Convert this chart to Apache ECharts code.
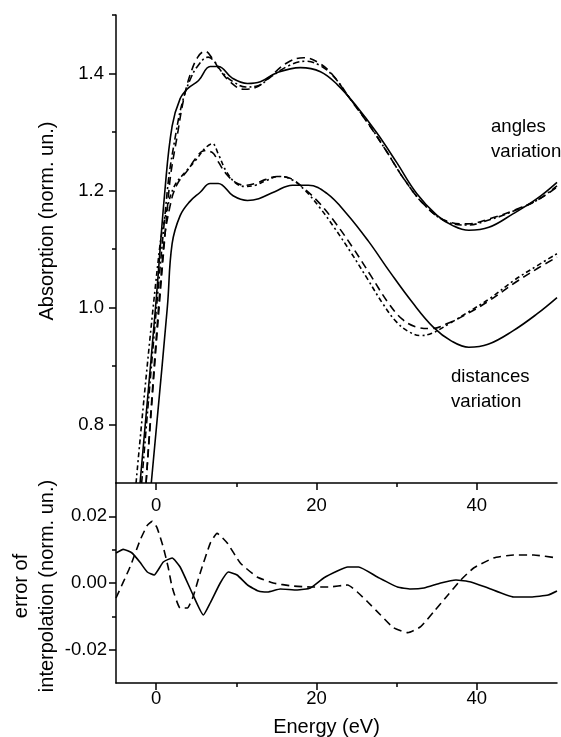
<!DOCTYPE html>
<html>
<head>
<meta charset="utf-8">
<script src="https://cdn.jsdelivr.net/npm/echarts@6/dist/echarts.min.js"></script>
<style>
html,body{margin:0;padding:0;background:#fff;}
#chart{width:561px;height:737px;}
</style>
</head>
<body>
<div id="chart"></div>
<script>
// ---- data (Energy eV, value) ----
const angleSolid = [[-2.0,0.70],[-0.07,1.00],[1.1,1.20],[2.0,1.310],[3.0,1.357],[4.0,1.375],[5.3,1.388],[6.75,1.412],[7.75,1.412],[9.5,1.392],[11.4,1.383],[13.0,1.386],[15.0,1.401],[18.0,1.410],[20.5,1.403],[22.6,1.381],[25.0,1.344],[27.5,1.299],[30.0,1.248],[32.5,1.195],[35.0,1.158],[37.0,1.140],[39.0,1.132],[41.5,1.137],[44.5,1.160],[47.5,1.186],[50.0,1.214]];
const angleDash = [[-1.25,0.70],[1.6,1.20],[2.75,1.303],[3.5,1.360],[4.3,1.400],[5.2,1.428],[6.1,1.438],[7.0,1.426],[8.0,1.405],[9.3,1.385],[10.9,1.373],[12.4,1.376],[14.0,1.392],[16.3,1.418],[18.4,1.427],[20.2,1.419],[22.0,1.398],[24.0,1.360],[26.4,1.315],[28.5,1.272],[31.0,1.218],[33.5,1.175],[36.0,1.149],[38.8,1.143],[41.7,1.152],[44.6,1.166],[47.6,1.184],[50.0,1.206]];
const angleDashDot = [[-1.8,0.70],[1.4,1.20],[2.5,1.300],[3.3,1.352],[4.2,1.388],[5.2,1.413],[6.5,1.428],[7.3,1.420],[8.3,1.401],[9.6,1.386],[11.2,1.377],[12.7,1.379],[14.2,1.393],[16.5,1.413],[18.6,1.421],[20.4,1.414],[22.2,1.394],[24.2,1.357],[26.6,1.312],[28.7,1.268],[31.2,1.214],[33.7,1.172],[36.2,1.147],[38.8,1.141],[41.6,1.150],[44.6,1.165],[47.6,1.184],[50.0,1.208]];
const distSolid = [[-0.6,0.70],[1.4,1.00],[2.0,1.109],[3.0,1.157],[4.2,1.181],[5.5,1.197],[6.75,1.212],[7.75,1.212],[9.6,1.191],[11.4,1.183],[12.8,1.186],[14.8,1.198],[17.0,1.209],[19.0,1.209],[21.3,1.195],[23.8,1.160],[26.5,1.113],[29.2,1.060],[32.0,1.008],[34.6,0.966],[36.8,0.943],[39.0,0.932],[41.4,0.937],[44.5,0.960],[47.5,0.989],[50.0,1.017]];
const distDash = [[-1.25,0.70],[0.9,1.10],[1.75,1.174],[2.6,1.210],[3.9,1.234],[5.0,1.256],[6.0,1.268],[7.0,1.265],[7.8,1.248],[8.7,1.229],[9.9,1.214],[11.1,1.209],[12.4,1.212],[13.7,1.219],[15.1,1.224],[16.7,1.221],[18.4,1.204],[20.4,1.178],[22.4,1.144],[24.6,1.101],[26.8,1.054],[28.9,1.009],[30.7,0.980],[32.4,0.967],[34.3,0.964],[36.4,0.973],[38.9,0.990],[41.7,1.013],[44.6,1.041],[47.6,1.067],[50.0,1.086]];
const distDashDot = [[-2.5,0.70],[0.4,1.097],[1.4,1.170],[2.3,1.208],[3.6,1.231],[4.9,1.251],[6.1,1.272],[7.0,1.280],[7.8,1.261],[8.7,1.234],[9.9,1.213],[11.1,1.207],[12.4,1.209],[13.7,1.217],[15.4,1.224],[17.0,1.218],[18.6,1.200],[20.4,1.171],[22.2,1.137],[24.3,1.094],[26.4,1.048],[28.3,1.006],[30.0,0.975],[31.6,0.958],[33.0,0.952],[34.4,0.956],[36.4,0.971],[38.9,0.992],[41.7,1.016],[44.6,1.046],[47.6,1.072],[50.0,1.092]];
const errSolid = [[-5,0.0090],[-4.1,0.0101],[-3,0.0090],[-2,0.0062],[-1.1,0.0033],[-0.25,0.0024],[0.9,0.0063],[2,0.0075],[3,0.0048],[4.5,-0.0030],[5.9,-0.0096],[6.75,-0.0060],[8,0.0000],[9,0.0033],[10.1,0.0024],[11.4,-0.0006],[12.75,-0.0024],[13.9,-0.0027],[15.5,-0.0018],[17.6,-0.0021],[19.25,-0.0015],[20.9,0.0015],[22.6,0.0036],[23.9,0.0048],[25.25,0.0048],[27.6,0.0018],[30.1,-0.0012],[31.75,-0.0018],[33.4,-0.0015],[35.5,0.0000],[37.4,0.0009],[39.25,0.0003],[41.4,-0.0015],[44.6,-0.0042],[46.75,-0.0042],[48.9,-0.0036],[50,-0.0024]];
const errDash = [[-5,-0.0045],[-3.25,0.0048],[-2,0.0128],[-1.1,0.0173],[-0.5,0.0185],[0.1,0.0167],[0.9,0.0107],[1.5,0.0048],[2,-0.0012],[3,-0.0075],[3.9,-0.0075],[4.6,-0.0042],[5.5,0.0030],[6.75,0.0119],[7.6,0.0149],[8.9,0.0119],[10.5,0.0060],[12.6,0.0018],[14.6,0.0000],[17,-0.0009],[19.25,-0.0012],[21.5,-0.0012],[23.9,-0.0006],[25.1,-0.0027],[26.4,-0.0057],[28,-0.0096],[29.6,-0.0134],[31.4,-0.0149],[33,-0.0131],[34.6,-0.0087],[36.4,-0.0036],[38,0.0009],[39.6,0.0045],[42.1,0.0075],[44.6,0.0084],[47.1,0.0084],[50,0.0075]];

const xMajorTicks = [0, 20, 40];
const xMinorTicks = [10, 30];
const yTopMajorTicks = [0.8, 1.0, 1.2, 1.4];
const yTopMinorTicks = [0.9, 1.1, 1.3, 1.5];
const yBotMajorTicks = [-0.02, 0.00, 0.02];
const yBotMinorTicks = [-0.01, 0.01];

const FONT = '"Liberation Sans", Arial, sans-serif';
const BLACK = '#000';

function xAx(grid, major, margin) {
  return {
    type: 'value', gridIndex: grid, min: -5, max: 50, position: 'bottom',
    axisLine: {show: major, onZero: false, lineStyle: {color: BLACK, width: 1.5}},
    axisTick: {show: true, inside: false, length: major ? 7 : 4, customValues: major ? xMajorTicks : xMinorTicks, lineStyle: {color: BLACK, width: 1.5}},
    axisLabel: major ? {show: true, customValues: xMajorTicks, margin: margin, fontSize: 18.5, fontFamily: FONT, color: BLACK, formatter: v => String(v)} : {show: false},
    splitLine: {show: false}
  };
}
function yAx(grid, min, max, ticks, major, margin, dec) {
  return {
    type: 'value', gridIndex: grid, min: min, max: max, position: 'left',
    axisLine: {show: major, onZero: false, lineStyle: {color: BLACK, width: 1.5}},
    axisTick: {show: true, inside: false, length: major ? 7 : 4, customValues: ticks, lineStyle: {color: BLACK, width: 1.5}},
    axisLabel: major ? {show: true, customValues: ticks, margin: margin, fontSize: 18.5, fontFamily: FONT, color: BLACK, formatter: v => Number(v).toFixed(dec)} : {show: false},
    splitLine: {show: false}
  };
}
function ser(data, xi, yi, type, smooth) {
  return {
    type: 'line', data: data, xAxisIndex: xi, yAxisIndex: yi,
    symbol: 'none', showSymbol: false, smooth: smooth,
    clip: true, silent: true,
    lineStyle: {color: BLACK, width: 1.6, type: type}
  };
}

const chart = echarts.init(document.getElementById('chart'), null, {renderer: 'canvas'});
chart.setOption({
  animation: false,
  backgroundColor: '#fff',
  grid: [
    {left: 116, top: 15, width: 441, height: 468},
    {left: 116, top: 483, width: 441, height: 200}
  ],
  xAxis: [
    xAx(0, true, 13), xAx(0, false, 0),
    xAx(1, true, 6), xAx(1, false, 0)
  ],
  yAxis: [
    yAx(0, 0.7, 1.5, yTopMajorTicks, true, 12, 1),
    yAx(0, 0.7, 1.5, yTopMinorTicks, false, 0, 1),
    yAx(1, -0.03, 0.03, yBotMajorTicks, true, 9, 2),
    yAx(1, -0.03, 0.03, yBotMinorTicks, false, 0, 2)
  ],
  series: [
    ser(angleSolid, 0, 0, 'solid', 0.4),
    ser(angleDash, 0, 0, [8, 5], 0.4),
    ser(angleDashDot, 0, 0, [7, 3, 2, 3], 0.4),
    ser(distSolid, 0, 0, 'solid', 0.4),
    ser(distDash, 0, 0, [8, 5], 0.4),
    ser(distDashDot, 0, 0, [5, 3, 2, 3], 0.4),
    ser(errSolid, 2, 2, 'solid', 0.15),
    ser(errDash, 2, 2, [8, 5], 0.15)
  ],
  graphic: [
    {type: 'text', x: 47, y: 221, rotation: Math.PI / 2, silent: true,
     style: {text: 'Absorption (norm. un.)', fontSize: 20, fontFamily: FONT, fill: BLACK, align: 'center', verticalAlign: 'middle'}},
    {type: 'text', x: 34.5, y: 586, rotation: Math.PI / 2, silent: true,
     style: {text: 'error of\ninterpolation (norm. un.)', fontSize: 20, lineHeight: 25.5, fontFamily: FONT, fill: BLACK, align: 'center', verticalAlign: 'middle'}},
    {type: 'text', x: 326.5, y: 727, silent: true,
     style: {text: 'Energy (eV)', fontSize: 20, fontFamily: FONT, fill: BLACK, align: 'center', verticalAlign: 'middle'}},
    {type: 'text', x: 491, y: 114, silent: true,
     style: {text: 'angles\nvariation', fontSize: 18.6, lineHeight: 25, fontFamily: FONT, fill: BLACK, align: 'left', verticalAlign: 'top'}},
    {type: 'text', x: 451, y: 364.5, silent: true,
     style: {text: 'distances\nvariation', fontSize: 18.6, lineHeight: 25, fontFamily: FONT, fill: BLACK, align: 'left', verticalAlign: 'top'}}
  ]
});
</script>
</body>
</html>
